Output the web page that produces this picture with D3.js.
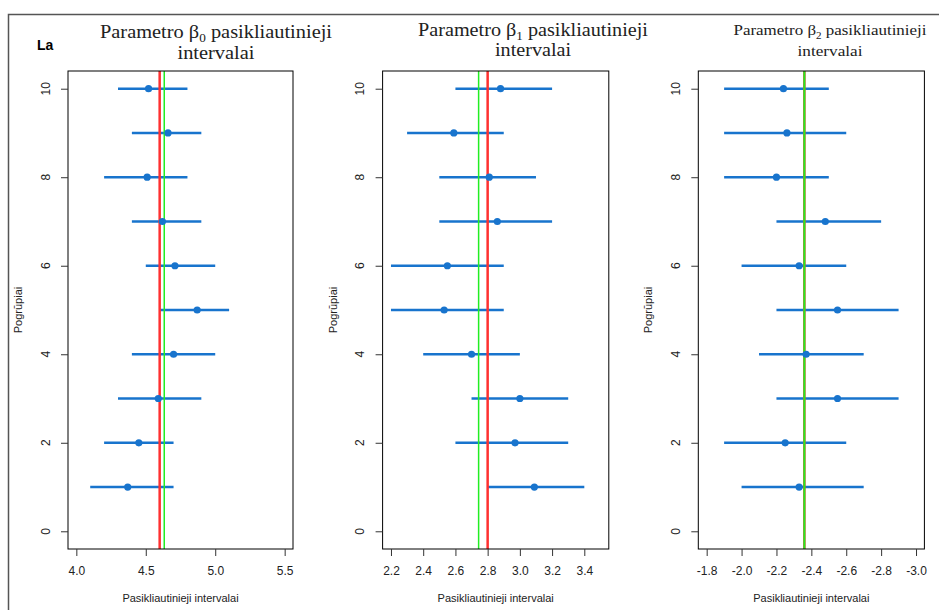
<!DOCTYPE html>
<html>
<head>
<meta charset="utf-8">
<script src="https://cdn.jsdelivr.net/npm/d3@7"></script>
<style>
  body { margin: 0; background: #fff; }
  svg { display: block; }
  .tick text { font-family: "Liberation Sans", Arial, sans-serif; }
</style>
</head>
<body>
<svg class="chart"></svg>
<script>
var W = 939, H = 610;

// grupiu numeriai (y asis)
var groups = [1, 2, 3, 4, 5, 6, 7, 8, 9, 10];
var yTicks = [0, 2, 4, 6, 8, 10];

// beta0 ivertis ir intervalai
var b0Est = [4.37, 4.45, 4.59, 4.70, 4.87, 4.71, 4.62, 4.51, 4.66, 4.52];
var b0Lo  = [4.1, 4.2, 4.3, 4.4, 4.6, 4.5, 4.4, 4.2, 4.4, 4.3];
var b0Hi  = [4.7, 4.7, 4.9, 5.0, 5.1, 5.0, 4.9, 4.8, 4.9, 4.8];

// beta1
var b1Est = [3.09, 2.97, 3.00, 2.70, 2.53, 2.55, 2.86, 2.81, 2.59, 2.88];
var b1Lo  = [2.8, 2.6, 2.7, 2.4, 2.2, 2.2, 2.5, 2.5, 2.3, 2.6];
var b1Hi  = [3.4, 3.3, 3.3, 3.0, 2.9, 2.9, 3.2, 3.1, 2.9, 3.2];

// beta2
var b2Est = [-2.33, -2.25, -2.55, -2.37, -2.55, -2.33, -2.48, -2.20, -2.26, -2.24];
var b2Lo  = [-2.0, -1.9, -2.2, -2.1, -2.2, -2.0, -2.2, -1.9, -1.9, -1.9];
var b2Hi  = [-2.7, -2.6, -2.9, -2.7, -2.9, -2.6, -2.8, -2.5, -2.6, -2.5];

// tikroji reiksme (raudona) ir vidurkis (zalia)
var trueVals = [4.6, 2.8, -2.36];
var meanVals = [4.633, 2.744, -2.36];

var xLims = [[4, 5.5], [2.2, 3.5], [-1.8, -3.0]];
var xTicks = [[4.0, 4.5, 5.0, 5.5],
              [2.2, 2.4, 2.6, 2.8, 3.0, 3.2, 3.4],
              [-1.8, -2.0, -2.2, -2.4, -2.6, -2.8, -3.0]];
var subs = ["0", "1", "2"];

var svg = d3.select(".chart").attr("width", W).attr("height", H);

// remelis aplink visa paveiksla
svg.append("path")
  .attr("d", "M8.5," + H + "V14.5H" + W)
  .attr("fill", "none").attr("stroke", "#555").attr("stroke-width", 1.5);

svg.append("text")
  .attr("x", 37).attr("y", 50)
  .style("font-family", "Liberation Sans, Arial, sans-serif")
  .style("font-weight", "bold").style("font-size", "14px")
  .text("La");

// tw = pavadinimo eiluciu plotis
var panels = [
  {left: 68, right: 293, est: b0Est, lo: b0Lo, hi: b0Hi, tx: 216, tb: [38, 59], tfs: 18, tw: [232, 77]},
  {left: 382.6, right: 608.8, est: b1Est, lo: b1Lo, hi: b1Hi, tx: 533, tb: [36, 56], tfs: 18, tw: [230, 76]},
  {left: 698.3, right: 924.4, est: b2Est, lo: b2Lo, hi: b2Hi, tx: 830, tb: [35, 56], tfs: 15, tw: [193, 65]}
];
var plotTop = 71, plotBottom = 549;

var y = d3.scaleLinear().domain([-0.4, 10.4]).range([plotBottom, plotTop]);

panels.forEach(function(p, i) {
  var lim = xLims[i];
  var pad = 0.04 * (lim[1] - lim[0]);
  var x = d3.scaleLinear().domain([lim[0] - pad, lim[1] + pad]).range([p.left, p.right]);
  var g = svg.append("g");

  // pavadinimas
  var t1 = g.append("text")
    .attr("x", p.tx - p.tw[0] / 2).attr("y", p.tb[0])
    .attr("textLength", p.tw[0]).attr("lengthAdjust", "spacingAndGlyphs")
    .style("font-family", "Liberation Serif, Times New Roman, serif")
    .style("font-size", p.tfs + "px").attr("fill", "#222");
  t1.append("tspan").text("Parametro \u03b2");
  t1.append("tspan").attr("dy", 4).style("font-size", (p.tfs * 0.65) + "px").text(subs[i]);
  t1.append("tspan").attr("dy", -4).text(" pasikliautinieji");
  g.append("text")
    .attr("x", p.tx - p.tw[1] / 2).attr("y", p.tb[1])
    .attr("textLength", p.tw[1]).attr("lengthAdjust", "spacingAndGlyphs")
    .style("font-family", "Liberation Serif, Times New Roman, serif")
    .style("font-size", p.tfs + "px").attr("fill", "#222")
    .text("intervalai");

  // intervalai
  g.selectAll(".ci")
    .data(groups)
  .enter().append("line")
    .attr("x1", function(d, j) { return x(p.lo[j]); })
    .attr("x2", function(d, j) { return x(p.hi[j]); })
    .attr("y1", function(d) { return y(d); })
    .attr("y2", function(d) { return y(d); })
    .attr("stroke", "#1874CD").attr("stroke-width", 2.5);

  // vertikalios linijos
  g.append("line")
    .attr("x1", x(trueVals[i])).attr("x2", x(trueVals[i]))
    .attr("y1", plotTop).attr("y2", plotBottom)
    .attr("stroke", "#FF3030").attr("stroke-width", 2.5);
  g.append("line")
    .attr("x1", x(meanVals[i])).attr("x2", x(meanVals[i]))
    .attr("y1", plotTop).attr("y2", plotBottom)
    .attr("stroke", "#22EE22").attr("stroke-width", i == 2 ? 2 : 1.5);

  g.selectAll(".pt")
    .data(groups)
  .enter().append("circle")
    .attr("cx", function(d, j) { return x(p.est[j]); })
    .attr("cy", function(d) { return y(d); })
    .attr("r", 3.6)
    .attr("fill", "#1874CD");

  // dezute
  g.append("rect")
    .attr("x", p.left).attr("y", plotTop)
    .attr("width", p.right - p.left).attr("height", plotBottom - plotTop)
    .attr("fill", "none").attr("stroke", "#000").attr("stroke-width", 1);

  // x asis
  var xa = g.append("g")
    .attr("transform", "translate(0," + plotBottom + ")")
    .call(d3.axisBottom(x).tickValues(xTicks[i]).tickSize(7).tickSizeOuter(0)
      .tickPadding(10).tickFormat(d3.format(".1f")));
  xa.select(".domain").remove();
  xa.selectAll(".tick line").attr("stroke", "#333");
  xa.selectAll(".tick text").style("font-size", "12px").attr("fill", "#222")
    .text(function(d) { return d3.format(".1f")(d).replace("\u2212", "-"); });

  // y asis
  var ya = g.append("g")
    .attr("transform", "translate(" + p.left + ",0)")
    .call(d3.axisLeft(y).tickValues(yTicks).tickSize(7).tickSizeOuter(0).tickFormat(""));
  ya.select(".domain").remove();
  ya.selectAll(".tick line").attr("stroke", "#333");

  g.selectAll(".ylab")
    .data(yTicks)
  .enter().append("text")
    .attr("transform", function(d) { return "translate(" + (p.left - 18.5) + "," + y(d) + ") rotate(-90)"; })
    .attr("text-anchor", "middle")
    .style("font-family", "Liberation Sans, Arial, sans-serif")
    .style("font-size", "12px").attr("fill", "#222")
    .text(function(d) { return d; });

  g.append("text")
    .attr("transform", "translate(" + (p.left - 46) + "," + ((plotTop + plotBottom) / 2) + ") rotate(-90)")
    .attr("text-anchor", "middle")
    .style("font-family", "Liberation Sans, Arial, sans-serif")
    .style("font-size", "11px").attr("fill", "#222")
    .text("Pogrūpiai");

  g.append("text")
    .attr("x", (p.left + p.right) / 2).attr("y", 602)
    .attr("text-anchor", "middle")
    .style("font-family", "Liberation Sans, Arial, sans-serif")
    .style("font-size", "11px").attr("fill", "#222")
    .text("Pasikliautinieji intervalai");
});
</script>
</body>
</html>
